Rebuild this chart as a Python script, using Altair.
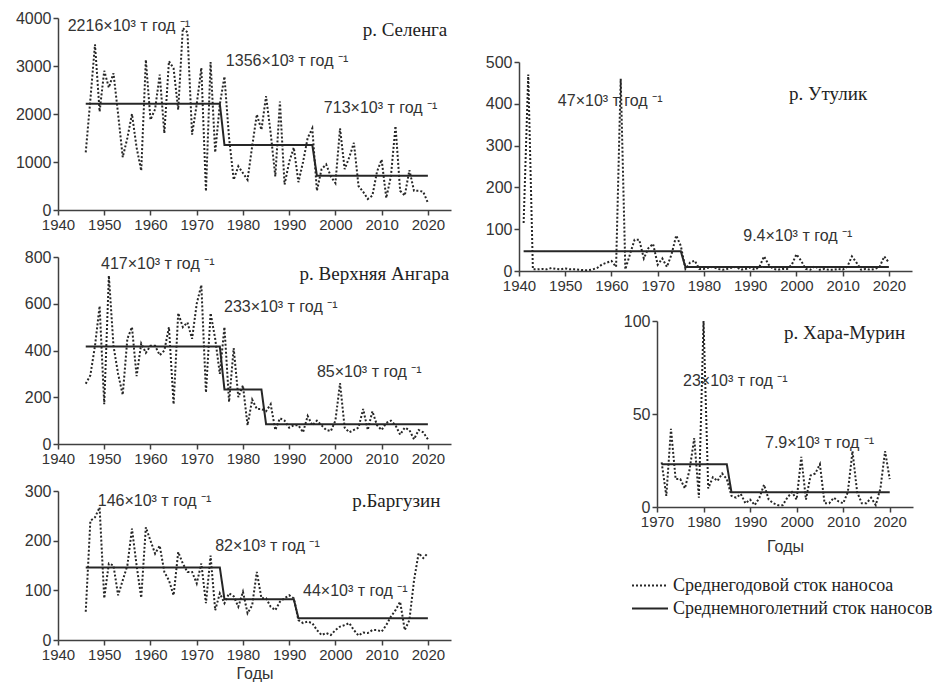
import altair as alt
import pandas as pd

DOT = "Среднегодовой сток наносоа"
SOLID = "Среднемноголетний сток наносов"
legend_items = [DOT, SOLID]

# ---- р. Селенга ----
selenga_years = list(range(1946, 2021))
selenga_vals = [1200, 2300, 3450, 2050, 2900, 2550, 2850, 2000, 1100, 1500,
                2000, 1300, 820, 3130, 1880, 2100, 2820, 1600, 3100, 2950,
                2090, 3790, 3700, 1570, 2200, 2960, 390, 3080, 1200, 2200,
                2780, 1500, 630, 910, 770, 630, 1330, 1990, 1670, 2370,
                1600, 700, 2260, 530, 1000, 1300, 580, 1000, 1500, 1700,
                400, 850, 950, 700, 560, 1700, 850, 1100, 1400, 500,
                380, 230, 300, 800, 1050, 250, 700, 1750, 400, 300,
                830, 400, 400, 380, 150]
selenga_mean_years = [1946, 1975, 1976, 1995, 1996, 2020]
selenga_mean_vals = [2216, 2216, 1356, 1356, 713, 713]

# ---- р. Верхняя Ангара ----
angara_years = list(range(1946, 2021))
angara_vals = [258, 294, 420, 590, 170, 720, 420, 300, 210, 450,
               500, 290, 430, 390, 420, 420, 380, 400, 500, 170,
               560, 500, 520, 450, 600, 680, 220, 560, 450, 300,
               500, 180, 410, 200, 250, 80, 190, 150, 150, 140,
               170, 60, 110, 100, 70, 80, 80, 50, 120, 80,
               100, 80, 60, 55, 100, 260, 70, 50, 60, 70,
               150, 60, 140, 80, 60, 90, 100, 80, 40, 70,
               60, 20, 60, 50, 20]
angara_mean_years = [1946, 1975, 1976, 1984, 1985, 2020]
angara_mean_vals = [417, 417, 233, 233, 85, 85]

# ---- р. Баргузин ----
barguzin_years = list(range(1946, 2021))
barguzin_vals = [57, 240, 247, 267, 84, 154, 150, 90, 120, 150,
                 224, 150, 85, 227, 200, 174, 190, 137, 120, 90,
                 177, 154, 137, 137, 114, 154, 74, 170, 60, 94,
                 74, 94, 88, 67, 97, 54, 70, 137, 84, 84,
                 67, 60, 77, 84, 90, 84, 40, 34, 37, 34,
                 20, 10, 14, 10, 20, 27, 30, 34, 20, 9,
                 15, 14, 20, 20, 17, 30, 47, 60, 77, 20,
                 40, 120, 175, 165, 175]
barguzin_mean_years = [1946, 1975, 1976, 1991, 1992, 2020]
barguzin_mean_vals = [146, 146, 82, 82, 44, 44]

# ---- р. Утулик ----
utulik_years = list(range(1941, 2021))
utulik_vals = [115, 470, 4, 4, 5, 4, 7, 5, 4, 6,
               4, 4, 3, 2, 2, 4, 8, 16, 20, 24,
               10, 460, 4, 40, 75, 75, 30, 55, 65, 15,
               30, 10, 40, 85, 60, 5, 20, 25, 5, 5,
               8, 10, 5, 3, 5, 8, 10, 3, 5, 8,
               3, 10, 35, 15, 5, 3, 5, 5, 15, 40,
               25, 5, 3, 12, 3, 5, 3, 3, 5, 3,
               10, 35, 20, 3, 5, 3, 5, 10, 35, 20]
utulik_mean_years = [1941, 1975, 1976, 2020]
utulik_mean_vals = [47, 47, 9.4, 9.4]

# ---- р. Хара-Мурин ----
hara_years = list(range(1971, 2021))
hara_vals = [24, 6, 42, 15, 15, 10, 20, 37, 5, 100,
             10, 16, 14, 18, 15, 6, 5, 7, 2, 4,
             1, 5, 12, 4, 2, 1, 1, 5, 8, 4,
             27, 4, 17, 18, 23, 2, 2, 5, 3, 2,
             8, 30, 8, 2, 2, 5, 1, 10, 30, 15]
hara_mean_years = [1971, 1985, 1986, 2020]
hara_mean_vals = [23, 23, 7.9, 7.9]

# annotation texts and their anchor points (year, value)
selenga_notes = ["2216×10³ т год ⁻¹", "1356×10³ т год ⁻¹", "713×10³ т год ⁻¹"]
selenga_note_x = [1942.1, 1976.3, 1997.5]
selenga_note_y = [3833, 3104, 2125]
angara_notes = ["417×10³ т год ⁻¹", "233×10³ т год ⁻¹", "85×10³ т год ⁻¹"]
angara_note_x = [1949.3, 1975.9, 1996.0]
angara_note_y = [770, 586, 308]
barguzin_notes = ["146×10³ т год ⁻¹", "82×10³ т год ⁻¹", "44×10³ т год ⁻¹"]
barguzin_note_x = [1948.6, 1974.0, 1993.0]
barguzin_note_y = [280, 190, 98]
utulik_notes = ["47×10³ т год ⁻¹", "9.4×10³ т год ⁻¹"]
utulik_note_x = [1948.4, 1988.5]
utulik_note_y = [407, 84]
hara_notes = ["23×10³ т год ⁻¹", "7.9×10³ т год ⁻¹"]
hara_note_x = [1975.6, 1993.2]
hara_note_y = [68, 34.4]

SANS = "Liberation Sans, Arial, sans-serif"
SERIF = "Liberation Serif, Times New Roman, serif"
INK = "#262626"
DASH_SCALE = alt.Scale(domain=legend_items, range=[[2, 2], [1, 0]])


def panel(river, yrs, vals, myrs, mvals, notes, nx, ny, river_x, river_y,
          xdom, ymax, ystep, w, h, xtitle=None, title_pad=4):
    df = pd.concat([
        pd.DataFrame({"Год": yrs, "Сток": vals, "Ряд": DOT}),
        pd.DataFrame({"Год": myrs, "Сток": mvals, "Ряд": SOLID}),
    ])
    xaxis = alt.Axis(values=list(range(xdom[0], xdom[1] + 1, 5)), format="d",
                     labelExpr="datum.value % 10 == 0 ? datum.label : ''",
                     labelOverlap=False, labelFlush=False,
                     title=xtitle if xtitle else None, labelFontSize=15,
                     titlePadding=title_pad)
    yaxis = alt.Axis(values=list(range(0, ymax + 1, ystep)), format="d",
                     labelOverlap=False, title=None, minExtent=45,
                     labelFontSize=16)
    x = alt.X("Год:Q", scale=alt.Scale(domain=xdom, nice=False, zero=False), axis=xaxis)
    y = alt.Y("Сток:Q", scale=alt.Scale(domain=[0, ymax], nice=False), axis=yaxis)
    lines = alt.Chart(df).mark_line(color=INK, strokeWidth=2).encode(
        x=x, y=y,
        strokeDash=alt.StrokeDash("Ряд:N", scale=DASH_SCALE, legend=None),
    )
    ndf = pd.DataFrame({"Год": nx, "Сток": ny, "t": notes})
    ntext = alt.Chart(ndf).mark_text(align="left", baseline="middle", font=SANS,
                                     fontSize=16, color="#333").encode(
        x="Год:Q", y="Сток:Q", text="t:N")
    rdf = pd.DataFrame({"Год": [river_x], "Сток": [river_y], "t": [river]})
    rtext = alt.Chart(rdf).mark_text(align="right", baseline="middle", font=SERIF,
                                     fontSize=19, color="#222").encode(
        x="Год:Q", y="Сток:Q", text="t:N")
    return alt.layer(lines, ntext, rtext).properties(width=w, height=h)


def blank(w, h):
    return alt.Chart(pd.DataFrame({"a": [0]})).mark_point(size=0, opacity=0).encode(
        x=alt.value(0), y=alt.value(0)).properties(width=w, height=h)


p1 = panel("р. Селенга", selenga_years, selenga_vals, selenga_mean_years, selenga_mean_vals,
           selenga_notes, selenga_note_x, selenga_note_y, 2024.2, 3750,
           [1940, 2025], 4000, 1000, 393, 192)
p2 = panel("р. Верхняя Ангара", angara_years, angara_vals, angara_mean_years, angara_mean_vals,
           angara_notes, angara_note_x, angara_note_y, 2024.6, 727,
           [1940, 2025], 800, 200, 393, 187)
p3 = panel("р.Баргузин", barguzin_years, barguzin_vals, barguzin_mean_years, barguzin_mean_vals,
           barguzin_notes, barguzin_note_x, barguzin_note_y, 2022.7, 280,
           [1940, 2025], 300, 100, 393, 149, xtitle="Годы", title_pad=3)
p4 = panel("р. Утулик", utulik_years, utulik_vals, utulik_mean_years, utulik_mean_vals,
           utulik_notes, utulik_note_x, utulik_note_y, 2015.3, 423,
           [1940, 2025], 500, 100, 393, 209)
p5 = panel("р. Хара-Мурин", hara_years, hara_vals, hara_mean_years, hara_mean_vals,
           hara_notes, hara_note_x, hara_note_y, 2023.3, 93.5,
           [1970, 2025], 100, 50, 256, 186, xtitle="Годы", title_pad=9)

# legend drawn as its own small view
ldf = pd.DataFrame({"Ряд": legend_items})
ly = alt.Y("Ряд:N", scale=alt.Scale(domain=legend_items), axis=None)
lrule = alt.Chart(ldf).mark_rule(color=INK, strokeWidth=2).encode(
    x=alt.value(113), x2=alt.value(149), y=ly,
    strokeDash=alt.StrokeDash("Ряд:N", scale=DASH_SCALE, legend=None))
ltext = alt.Chart(ldf).mark_text(align="left", baseline="middle", font=SERIF,
                                 fontSize=18, color="#222").encode(
    x=alt.value(154), y=ly, text="Ряд:N")
legend = alt.layer(lrule, ltext).properties(width=300, height=46)

left = alt.vconcat(p1, p2, p3, spacing=17)
p5_row = alt.hconcat(blank(93, 10), p5, spacing=0)
right = alt.vconcat(blank(300, 16), p4, p5_row, legend, spacing=20)

chart = alt.hconcat(left, right, spacing=23).properties(
    padding={"left": 5, "top": 2, "right": 0, "bottom": 1}
).configure(
    background="white",
).configure_view(stroke=None).configure_axis(
    grid=False, domainColor="#404040", domainWidth=1.5, tickColor="#404040",
    tickWidth=1.5, tickSize=5, labelFont=SANS, labelColor="#333", labelPadding=2,
    titleFont=SANS, titleFontSize=16, titleFontWeight="normal", titleColor="#333",
)

chart.save("out.html", embed_options={"renderer": "svg", "actions": False})
